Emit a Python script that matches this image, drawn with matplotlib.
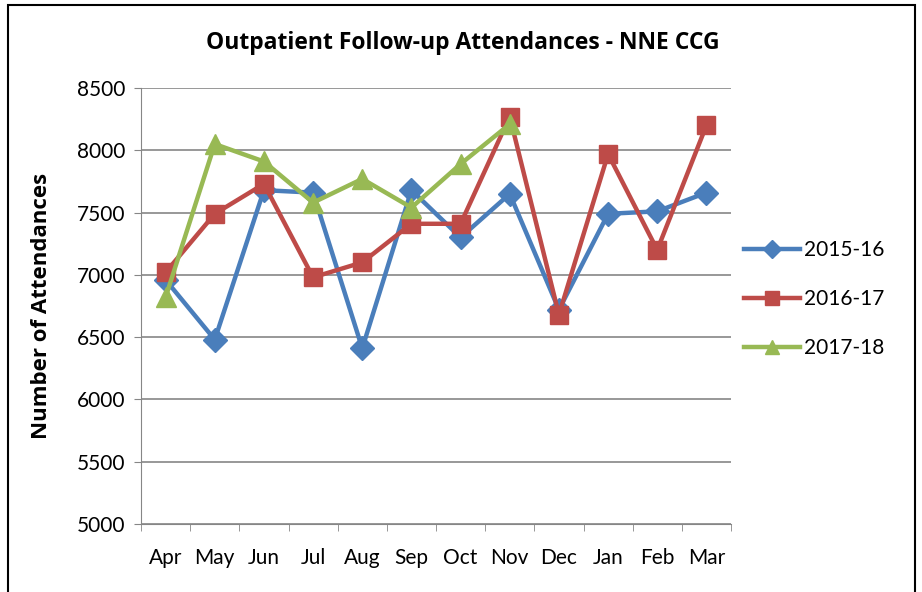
import matplotlib.pyplot as plt
from matplotlib.patches import Rectangle

months = ["Apr", "May", "Jun", "Jul", "Aug", "Sep", "Oct", "Nov", "Dec", "Jan", "Feb", "Mar"]
y2015 = [6960, 6480, 7680, 7660, 6410, 7680, 7300, 7650, 6720, 7490, 7510, 7660]
y2016 = [7020, 7490, 7730, 6980, 7100, 7410, 7410, 8270, 6680, 7970, 7200, 8200]
y2017 = [6820, 8050, 7910, 7580, 7770, 7540, 7890, 8210]

plt.rcParams["font.family"] = ["Lato", "DejaVu Sans"]

fig = plt.figure(figsize=(9.22, 5.92), dpi=100)
ax = fig.add_axes([141 / 922, 1 - 524 / 592, 590 / 922, 436 / 592])

# rahmen um das ganze diagramm
fig.patches.append(Rectangle((8 / 922, -0.01), 907 / 922, 1 - 5 / 592 + 0.01,
                             transform=fig.transFigure, fill=False,
                             edgecolor="black", linewidth=1.5))

x = list(range(len(months)))
ax.plot(x, y2015, color="#4A7EBB", lw=3.2, marker="D", ms=12, label="2015-16")
ax.plot(x, y2016, color="#BE4B48", lw=3.2, marker="s", ms=13, label="2016-17")
ax.plot(x[:len(y2017)], y2017, color="#98B954", lw=3.2, marker="^", ms=14, label="2017-18")

ax.set_ylim(5000, 8500)
ax.set_yticks(range(5000, 8501, 500))
ax.set_xlim(-0.5, 11.5)
ax.set_xticks(x)
ax.set_xticklabels(months)
ax.set_xticks([i - 0.5 for i in range(13)], minor=True)
ax.tick_params(axis="x", which="major", length=0, labelsize=15, pad=17)
ax.tick_params(axis="x", which="minor", length=5, color="#868686")
ax.tick_params(axis="y", length=5, color="#868686", labelsize=15, pad=6)

ax.grid(axis="y", color="#868686", lw=1.2)
ax.set_axisbelow(True)
for s in ["top", "right"]:
    ax.spines[s].set_visible(False)
ax.spines["left"].set_color("#868686")
ax.spines["bottom"].set_color("#868686")

bold = ["Open Sans", "DejaVu Sans"]
ax.set_title("Outpatient Follow-up Attendances - NNE CCG", fontsize=16.5,
             fontweight="bold", family=bold, pad=28, x=0.546)
ax.set_ylabel("Number of Attendances", fontsize=16, fontweight="bold",
              family=bold, labelpad=18)

ax.legend(loc="upper left", bbox_to_anchor=(1.0, 0.68), frameon=False,
          fontsize=15, handlelength=2.7, labelspacing=1.4, borderaxespad=0.2,
          handletextpad=0.2, markerscale=0.75)

fig.savefig("out.png", dpi=100)
